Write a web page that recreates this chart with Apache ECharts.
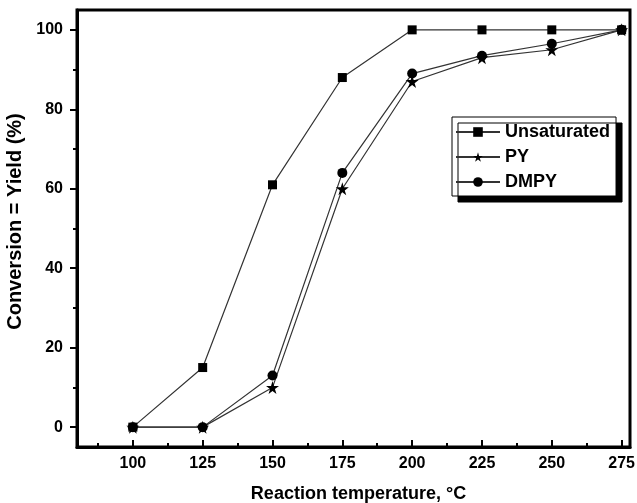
<!DOCTYPE html>
<html>
<head>
<meta charset="utf-8">
<script src="https://cdn.jsdelivr.net/npm/echarts@6/dist/echarts.min.js"></script>
<style>
  html, body { margin: 0; padding: 0; background: #fff; }
  #chart { width: 637px; height: 503px; }
</style>
</head>
<body>
<div id="chart"></div>
<script>
// Reaction temperature (°C)
const temperatures = [100, 125, 150, 175, 200, 225, 250, 275];
// Conversion / yield (%)
const unsaturated = [0, 15, 61, 88, 100, 100, 100, 100];
const py          = [0, 0, 10, 60, 87, 93, 95, 100];
const dmpy        = [0, 0, 13, 64, 89, 93.5, 96.5, 100];

const xMajorTicks = [100, 125, 150, 175, 200, 225, 250, 275];
const xMinorTicks = [87.5, 112.5, 137.5, 162.5, 187.5, 212.5, 237.5, 262.5];
const yMajorTicks = [0, 20, 40, 60, 80, 100];
const yMinorTicks = [10, 30, 50, 70, 90];

const STAR = 'path://M50,0 L61,35 L98,35 L68,57 L79,91 L50,70 L21,91 L32,57 L2,35 L39,35 Z';
const FONT = 'Liberation Sans, Arial, sans-serif';

const pairs = arr => temperatures.map((t, i) => [t, arr[i]]);

function lineSeries(name, values, symbol, size) {
  return {
    name, type: 'line', data: pairs(values),
    xAxisIndex: 0, yAxisIndex: 0,
    symbol, symbolSize: size, showAllSymbol: true,
    lineStyle: { color: '#333', width: 1.2 },
    itemStyle: { color: '#000' },
    emphasis: { disabled: true },
    animation: false
  };
}

const chart = echarts.init(document.getElementById('chart'), null, { renderer: 'canvas' });
chart.setOption({
  animation: false,
  backgroundColor: '#fff',
  grid: {
    left: 77, right: 7, top: 10, bottom: 56,
    outerBoundsMode: 'none', containLabel: false,
    show: true, borderColor: '#000', borderWidth: 3, backgroundColor: 'transparent'
  },
  legend: {
    orient: 'vertical',
    left: 452, top: 117,
    padding: [5, 6, 4, 3],
    itemGap: 5,
    itemWidth: 44, itemHeight: 12,
    backgroundColor: '#fff',
    borderColor: '#000', borderWidth: 1,
    shadowColor: '#000', shadowBlur: 0, shadowOffsetX: 6, shadowOffsetY: 6,
    textStyle: { fontFamily: FONT, fontWeight: 'bold', fontSize: 18, color: '#000', lineHeight: 20 },
    data: ['Unsaturated', 'PY', 'DMPY']
  },
  xAxis: [{
    type: 'value', min: 80, max: 278, position: 'bottom',
    name: 'Reaction temperature, °C', nameLocation: 'middle', nameGap: 38,
    nameTextStyle: { fontFamily: FONT, fontWeight: 'bold', fontSize: 18, color: '#000', padding: [0, 0, 0, 10] },
    axisLine: { show: true, onZero: false, lineStyle: { color: '#000', width: 3 } },
    axisTick: { show: true, inside: true, length: 7, customValues: xMajorTicks, lineStyle: { color: '#000', width: 2 } },
    axisLabel: { customValues: xMajorTicks, margin: 9, fontFamily: FONT, fontWeight: 'bold', fontSize: 16, color: '#000' },
    splitLine: { show: false }
  }, {
    type: 'value', min: 80, max: 278, position: 'bottom', gridIndex: 0,
    axisLine: { show: false, onZero: false },
    axisTick: { show: true, inside: true, length: 4, customValues: xMinorTicks, lineStyle: { color: '#000', width: 2 } },
    axisLabel: { show: false },
    splitLine: { show: false }
  }],
  yAxis: [{
    type: 'value', min: -5, max: 105, position: 'left',
    name: 'Conversion = Yield (%)', nameLocation: 'middle', nameGap: 47,
    nameTextStyle: { fontFamily: FONT, fontWeight: 'bold', fontSize: 20, color: '#000', padding: [0, 0, 0, 14] },
    axisLine: { show: true, onZero: false, lineStyle: { color: '#000', width: 3 } },
    axisTick: { show: true, inside: false, length: 7, customValues: yMajorTicks, lineStyle: { color: '#000', width: 2 } },
    axisLabel: { customValues: yMajorTicks, margin: 14, fontFamily: FONT, fontWeight: 'bold', fontSize: 16, color: '#000' },
    splitLine: { show: false }
  }, {
    type: 'value', min: -5, max: 105, position: 'left', gridIndex: 0,
    axisLine: { show: false, onZero: false },
    axisTick: { show: true, inside: false, length: 4, customValues: yMinorTicks, lineStyle: { color: '#000', width: 2 } },
    axisLabel: { show: false },
    splitLine: { show: false }
  }],
  series: [
    lineSeries('Unsaturated', unsaturated, 'rect', 9),
    lineSeries('PY', py, STAR, 13),
    lineSeries('DMPY', dmpy, 'circle', 10)
  ]
});
</script>
</body>
</html>
